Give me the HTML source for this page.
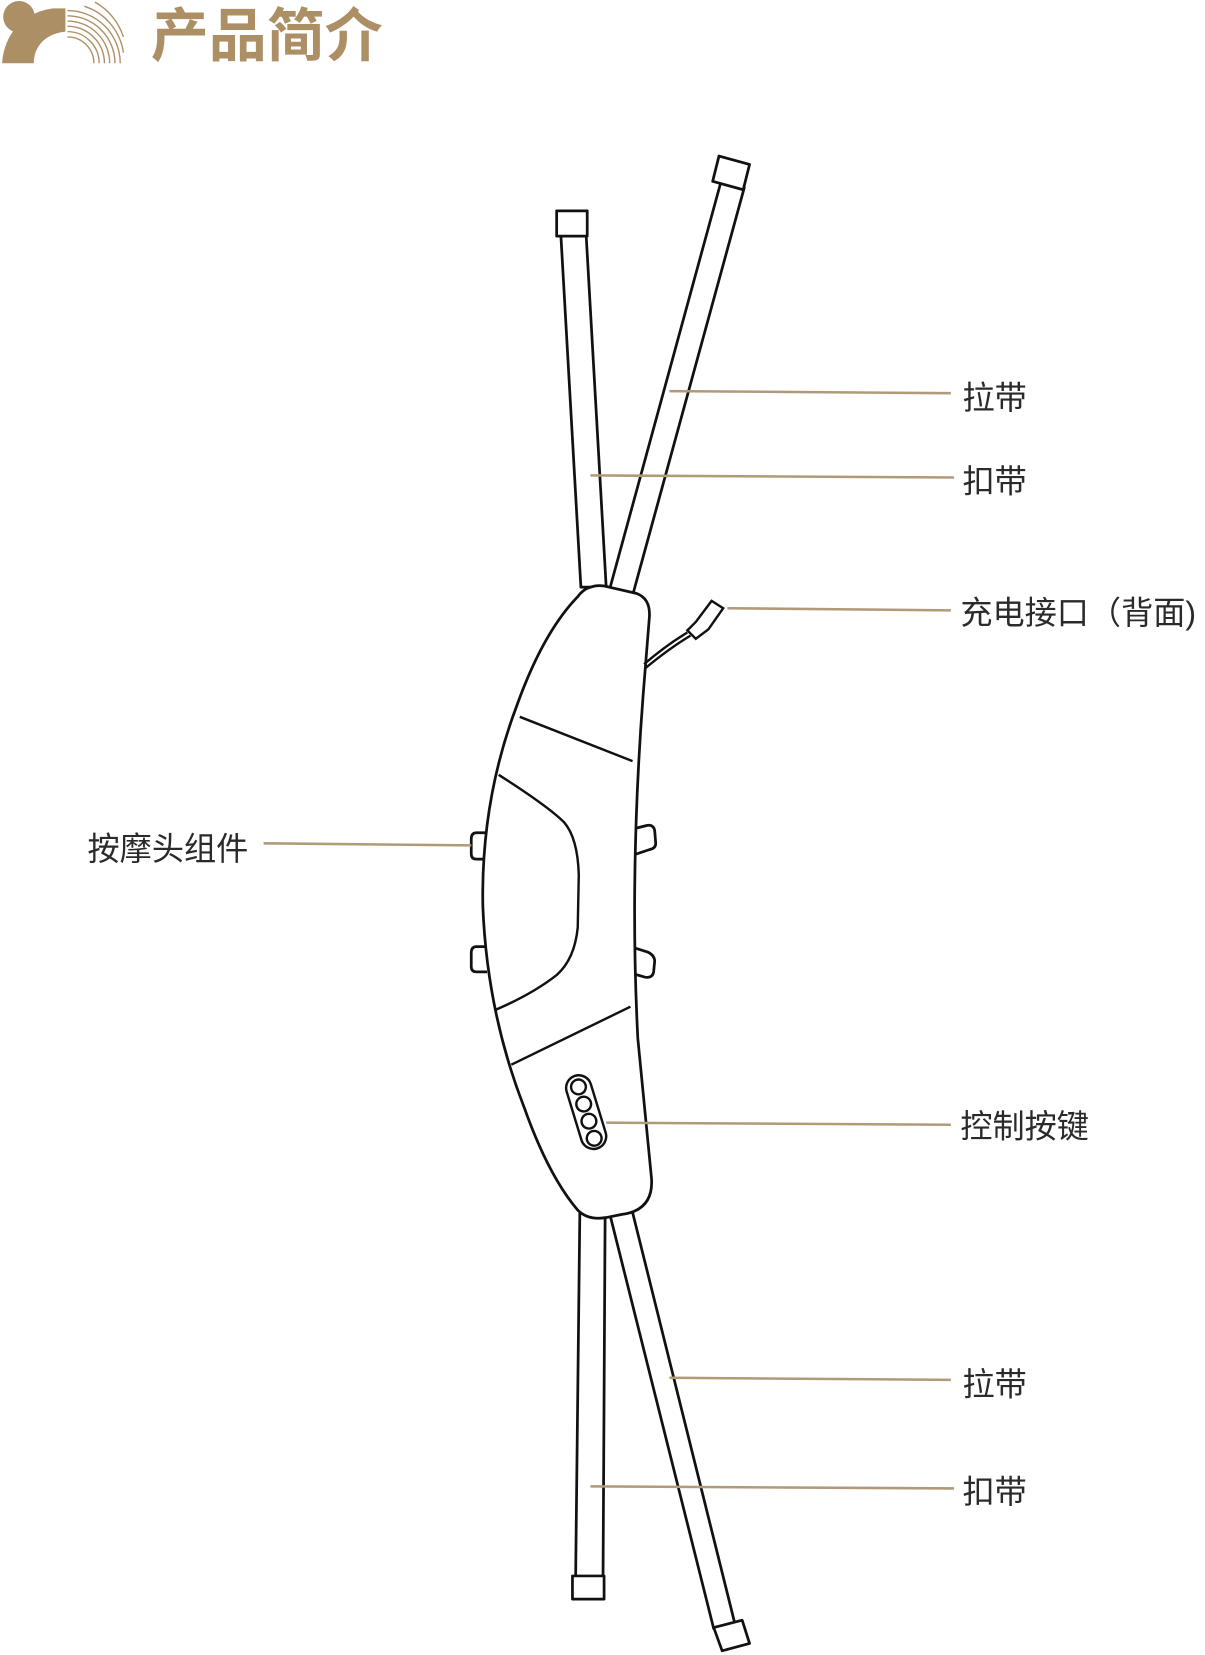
<!DOCTYPE html>
<html><head><meta charset="utf-8"><style>
html,body{margin:0;padding:0;background:#fff;width:1205px;height:1655px;overflow:hidden}
svg{display:block}
text{font-family:"Liberation Sans","Noto Sans CJK SC",sans-serif}
</style></head><body>
<svg width="1205" height="1655" viewBox="0 0 1143 1570" xmlns="http://www.w3.org/2000/svg">
<!-- logo -->
<g fill="#ad8f65">
<circle cx="18" cy="16" r="15"/>
<path d="M2 60 C4 32 22 12 50 8 L62 8 L62 30 C42 32 32 45 32 60 Z"/>
</g>
<g fill="none" stroke="#ad8f65" stroke-width="1.3">
<path d="M64 15 A45 45 0 0 1 109 60"/>
<path d="M64 20 A40 40 0 0 1 104 60"/>
<path d="M64 25 A35 35 0 0 1 99 60"/>
<path d="M64 30 A30 30 0 0 1 94 60"/>
<path d="M64 35 A25 25 0 0 1 89 60"/>
<path d="M64 10 A50 50 0 0 1 114 60"/>
<path d="M80 6 A54 54 0 0 1 117 50"/>
<path d="M90 2 A58 58 0 0 1 117 35"/>
</g>
<text x="143" y="53" font-size="55" font-weight="bold" fill="#ad8f65">产品简介</text>

<g fill="#fff" stroke="#111" stroke-width="2.6" stroke-linejoin="round">
<polygon points="532,223 556,223 575,557 551,557"/>
<rect x="528" y="200" width="29" height="24"/>
<polygon points="684,172 706,178 600,565 578,560"/>
<polygon points="682,148 711,156 705,180 676,172"/>
<polygon points="550,1150 574,1150 572,1497 546,1497"/>
<rect x="543" y="1495" width="30" height="22"/>
<polygon points="578,1150 600,1150 697,1540 677,1545"/>
<polygon points="677,1544 704,1537 711,1559 685,1566"/>
<path d="M462 790 L452 790 Q447 790 447 796 L447 810 Q447 815 452 815 L462 815"/>
<path d="M462 898 L452 898 Q447 898 447 904 L447 917 Q447 922 452 922 L462 922"/>
<path d="M598 787 L614 783 Q620 782 621 788 L622 800 Q622 805 616 806 L598 812"/>
<path d="M598 898 L614 903 Q621 906 621 912 L620 922 Q619 928 612 927 L598 923"/>
<path d="M560 557 Q568 554 578 557 L604 563 Q617 568 616 585 L610 660 Q597 830 605 985 L618 1118 Q620 1148 590 1152 L575 1155 Q558 1158 548 1148 Q520 1115 497 1050 Q462 960 458 860 Q456 760 490 670 Q515 600 548 566 Q553 559 560 557 Z"/>
</g>
<g fill="none" stroke="#111" stroke-width="2.3">
<path d="M493 680 L600 722"/>
<path d="M473 735 Q520 765 535 780 Q548 795 549 830 L548 880 Q545 910 528 925 Q505 943 470 958"/>
<path d="M598 955 L485 1010"/>
<path d="M612 634 Q635 615 655 603"/>
<path d="M611 630 Q632 612 652 600"/>
<path d="M652 598 L660 590 L675 570 L686 577 L672 597 L660 606 Z" fill="#fff"/>
<g transform="rotate(-17 556 1055)">
<rect x="544" y="1019" width="24" height="72" rx="12" fill="#fff"/>
<circle cx="556" cy="1030" r="7"/>
<circle cx="556" cy="1047" r="7"/>
<circle cx="556" cy="1064" r="7"/>
<circle cx="556" cy="1081" r="7"/>
</g>
</g>
<g stroke="#b09a7a" stroke-width="2.4">
<line x1="635" y1="371" x2="902" y2="373"/>
<line x1="560" y1="451" x2="905" y2="453"/>
<line x1="690" y1="577" x2="902" y2="579"/>
<line x1="250" y1="800" x2="447" y2="802"/>
<line x1="575" y1="1065" x2="902" y2="1067"/>
<line x1="635" y1="1307" x2="902" y2="1309"/>
<line x1="560" y1="1410" x2="905" y2="1412"/>
</g>
<g font-size="30.5" fill="#2a2a2a">
<text x="913" y="388">拉带</text>
<text x="913" y="467">扣带</text>
<text x="911" y="592">充电接口（背面)</text>
<text x="83" y="816">按摩头组件</text>
<text x="911" y="1079">控制按键</text>
<text x="913" y="1324">拉带</text>
<text x="913" y="1426">扣带</text>
</g>
</svg>
</body></html>
